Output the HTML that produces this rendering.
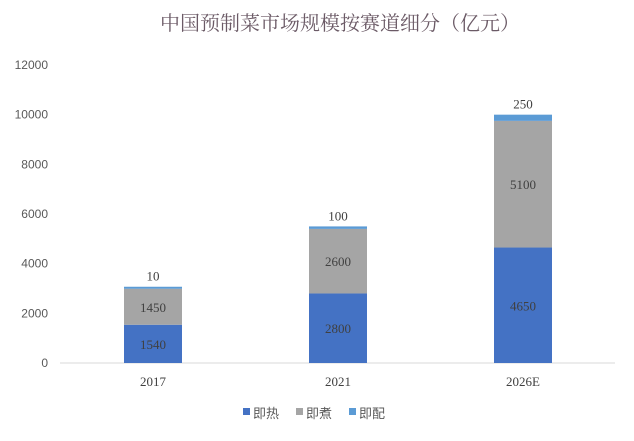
<!DOCTYPE html>
<html><head><meta charset="utf-8"><style>
body{margin:0;background:#fff;}
svg{display:block;}
</style></head><body>
<svg id="chart" width="634" height="441" xmlns="http://www.w3.org/2000/svg">
<text x="340" y="30" text-anchor="middle" font-family="'Liberation Serif','Noto Serif CJK SC',serif" font-size="20" fill="#6b5a66">中国预制菜市场规模按赛道细分（亿元）</text>
<g id="yaxis"></g><g id="bars"></g><g id="xaxis"></g><g id="legend"></g>
</svg>
<script>
const categories=["2017","2021","2026E"];
const seriesNames=["即热","即煮","即配"];
const reheat=[1540,2800,4650];
const cook=[1450,2600,5100];
const prep=[10,100,250];
const yTicks=[0,2000,4000,6000,8000,10000,12000];
const colors=["#4472C4","#A5A5A5","#5B9BD5"];
const NS="http://www.w3.org/2000/svg";
const y0=363,yTop=65,yMax=12000;
function y(v){return y0-(v/yMax)*(y0-yTop);}
function x(i){return 153+i*185;}
function mk(tag,attrs,parent,text){const e=document.createElementNS(NS,tag);for(const k in attrs)e.setAttribute(k,attrs[k]);if(text!==undefined)e.textContent=text;parent.appendChild(e);return e;}
const ya=document.getElementById('yaxis');
yTicks.forEach(t=>{const e=mk('text',{x:48,y:y(t)+4,'text-anchor':'end','font-family':'Liberation Sans,sans-serif','font-size':12,fill:'#595959'},ya,String(t));

});
const ax=mk('line',{x1:60,x2:615,y1:y0,y2:y0,stroke:'#d9d9d9','stroke-width':1},ya);


const bg=document.getElementById('bars');
const series=[reheat,cook,prep];
const bw=58;
categories.forEach((c,i)=>{let acc=0;
series.forEach((s,k)=>{const v=s[i];let top=y(acc+v);const bot=y(acc);
if(bot-top<2)top=bot-2;
const r=mk('rect',{x:x(i)-bw/2,y:top,width:bw,height:bot-top,fill:colors[k]},bg);


let ty=k===2?top-6:(top+bot)/2+5;
const t=mk('text',{x:x(i),y:ty,'text-anchor':'middle','font-family':'Liberation Serif,serif','font-size':13,fill:'#404040'},bg,String(v));


acc+=v;});
const xl=mk('text',{x:x(i),y:386,'text-anchor':'middle','font-family':'Liberation Serif,serif','font-size':13,fill:'#404040'},document.getElementById('xaxis'),c);

});
const lg=document.getElementById('legend');
seriesNames.forEach((n,k)=>{const lx=243+k*53;
const g=mk('g',{},lg);


mk('rect',{x:lx,y:408,width:7,height:7,fill:colors[k]},g);
mk('text',{x:lx+10,y:418,'font-family':'Liberation Sans,Noto Sans CJK SC,sans-serif','font-size':13,fill:'#595959'},g,n);});
</script>
</body></html>
